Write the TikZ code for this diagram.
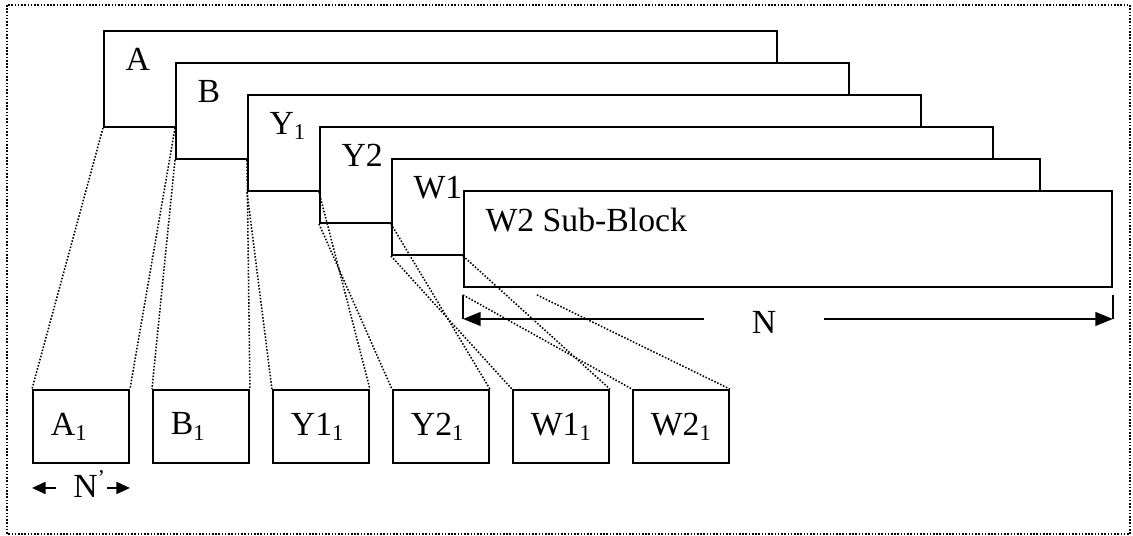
\documentclass[tikz,border=0pt]{standalone}
\usepackage{fontspec}
\setmainfont{Liberation Serif}
\usetikzlibrary{positioning, arrows.meta}

\begin{document}
\begin{tikzpicture}[
      font=\fontsize{12}{14}\selectfont,
      >={Triangle[length=2.2mm,width=1.7mm]},
      block/.style={draw, line width=0.7pt, fill=white, anchor=north west,
                    minimum width=8.4125cm, minimum height=1.2cm, inner sep=0pt},
      tag/.style={inner sep=0pt},
      sub/.style={draw, line width=0.7pt, minimum width=1.2cm, minimum height=0.9125cm,
                  text width=0.75cm, inner xsep=0.225cm, align=left},
      zoom/.style={line width=0.55pt, dash pattern=on 0.55pt off 0.6pt},
      dim/.style={->, line width=0.75pt},
      dimlbl/.style={inner sep=0pt, text height=0.66em, text depth=0pt}
  ]
    \useasboundingbox (0,0) rectangle (14.1625,-6.7);
    \draw[zoom] (0.0875,-0.0625) rectangle (14.125,-6.675);

    % stacked sub-blocks
    \node[block] (A) at (1.2875,-0.375) {};
    \node[block, below right=0.4cm and 0.9cm of A.north west] (B) {};
    \node[block, below right=0.4cm and 0.9cm of B.north west] (Y1) {};
    \node[block, below right=0.4cm and 0.9cm of Y1.north west] (Y2) {};
    \node[block, minimum width=8.1cm, below right=0.4cm and 0.9cm of Y2.north west] (W1) {};
    \node[block, minimum width=8.1cm, below right=0.4cm and 0.9cm of W1.north west] (W2) {};
    \node[tag, below right=0.22cm and 0.275cm of A.north west] (tA) {A};
    \node[tag, below right=0.22cm and 0.275cm of B.north west] (tB) {B};
    \node[tag, below right=0.22cm and 0.275cm of Y1.north west] (tY1) {Y\textsubscript{1}};
    \node[tag, below right=0.22cm and 0.275cm of Y2.north west] (tY2) {Y2};
    \node[tag, below right=0.22cm and 0.275cm of W1.north west] (tW1) {W1};
    \node[tag, below right=0.22cm and 0.275cm of W2.north west] (tW2) {W2 Sub-Block};

    % first slice of every block
    \node[sub, anchor=north west] (a1) at (0.4,-4.8625) {A\textsubscript{1}};
    \node[sub, right=0.275cm of a1] (b1) {B\textsubscript{1}};
    \node[sub, right=0.275cm of b1] (y11) {Y1\textsubscript{1}};
    \node[sub, right=0.275cm of y11] (y21) {Y2\textsubscript{1}};
    \node[sub, right=0.275cm of y21] (w11) {W1\textsubscript{1}};
    \node[sub, right=0.275cm of w11] (w21) {W2\textsubscript{1}};

    % width N of a sub-block
    \coordinate[below=0.0875cm of W2.south west] (nl);
    \coordinate[below=0.0875cm of W2.south east] (nr);
    \coordinate[below=0.3cm of nl] (nlo);
    \coordinate[below=0.3cm of nr] (nro);
    \coordinate[right=0.925cm of nl] (nm);
    \node[dimlbl, right=3.0125cm of nlo, minimum width=1.4875cm, yshift=-0.0625cm] (N) {N};
    \draw[line width=0.7pt] (nl) -- (nlo);
    \draw[line width=0.7pt] (nr) -- (nro);
    \draw[dim] (N.west |- nlo) -- (nlo);
    \draw[dim] (N.east |- nro) -- (nro);

    % width N' of a slice
    \node[dimlbl, below=0.3cm of a1.south, anchor=center, xshift=0.1125cm] (np) {N\textsuperscript{’}};
    \draw[dim, >={Triangle[length=1.7mm,width=1.5mm]}] ([xshift=-2.1mm]np.west) -- (np.west -| a1.west);
    \draw[dim, >={Triangle[length=1.7mm,width=1.5mm]}] (np.east) -- (np.east -| a1.east);

    % slices taken from the blocks
    \draw[zoom] (A.south west) -- (a1.north west);
    \draw[zoom] (A.south -| B.west) -- (a1.north east);
    \draw[zoom] (B.south west) -- (b1.north west);
    \draw[zoom] (B.south -| Y1.west) -- (b1.north east);
    \draw[zoom] (Y1.south west) -- (y11.north west);
    \draw[zoom] (Y1.south -| Y2.west) -- (y11.north east);
    \draw[zoom] (Y2.south west) -- (y21.north west);
    \draw[zoom] (Y2.south -| W1.west) -- (y21.north east);
    \draw[zoom] (W1.south west) -- (w11.north west);
    \draw[zoom] (W1.south -| W2.west) -- (w11.north east);
    \draw[zoom] (nl) -- (w21.north west);
    \draw[zoom] (nm) -- (w21.north east);
\end{tikzpicture}
\end{document}
